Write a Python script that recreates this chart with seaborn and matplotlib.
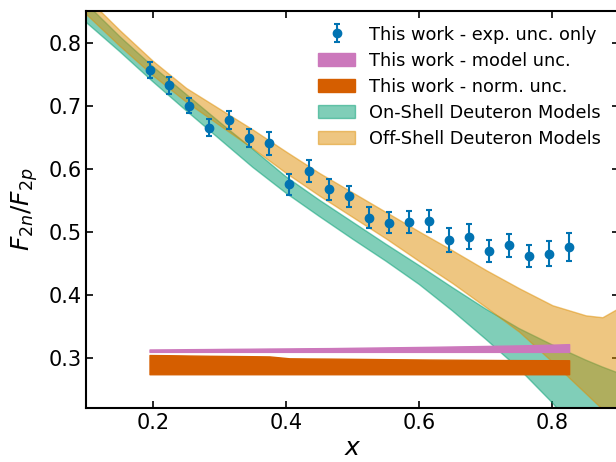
import numpy as np
import seaborn as sns
import matplotlib
matplotlib.use("Agg")
import matplotlib.pyplot as plt

# measured F2n/F2p points (exp. unc. only)
x_data = [0.195, 0.225, 0.255, 0.285, 0.315, 0.345, 0.375, 0.405, 0.435, 0.465, 0.495,
          0.525, 0.555, 0.585, 0.615, 0.645, 0.675, 0.705, 0.735, 0.765, 0.795, 0.825]
ratio = [0.756, 0.732, 0.700, 0.665, 0.677, 0.649, 0.640, 0.575, 0.596, 0.567, 0.556,
         0.522, 0.514, 0.515, 0.517, 0.487, 0.492, 0.469, 0.478, 0.461, 0.465, 0.476]
exp_err = [0.013, 0.013, 0.012, 0.013, 0.014, 0.014, 0.018, 0.017, 0.018, 0.017, 0.017,
           0.017, 0.017, 0.018, 0.018, 0.019, 0.020, 0.018, 0.018, 0.017, 0.020, 0.022]

# model / normalisation uncertainty bands (drawn at the bottom)
model_lo = 0.309
model_hi = [0.3128, 0.3130, 0.3133, 0.3135, 0.3138, 0.3140, 0.3143, 0.3145, 0.3148, 0.3150, 0.3154,
            0.3158, 0.3162, 0.3166, 0.3170, 0.3175, 0.3180, 0.3185, 0.3190, 0.3196, 0.3203, 0.3213]
norm_lo = 0.2735
norm_hi = [0.3040, 0.3037, 0.3032, 0.3028, 0.3025, 0.3022, 0.3018, 0.2988, 0.2985, 0.2983, 0.2980,
           0.2977, 0.2974, 0.2971, 0.2968, 0.2966, 0.2964, 0.2962, 0.2960, 0.2959, 0.2958, 0.2957]

# deuteron model bands
x_model = [0.10, 0.15, 0.20, 0.25, 0.30, 0.35, 0.40, 0.45, 0.50, 0.55, 0.60,
           0.65, 0.70, 0.75, 0.80, 0.85, 0.875, 0.90]
on_lo = [0.832, 0.786, 0.738, 0.692, 0.647, 0.602, 0.561, 0.524, 0.488, 0.453, 0.416,
         0.374, 0.329, 0.282, 0.228, 0.165, 0.132, 0.098]
on_hi = [0.862, 0.810, 0.762, 0.718, 0.674, 0.631, 0.587, 0.550, 0.515, 0.480, 0.446,
         0.411, 0.377, 0.346, 0.320, 0.296, 0.285, 0.275]
off_lo = [0.845, 0.795, 0.748, 0.706, 0.669, 0.632, 0.593, 0.557, 0.523, 0.489, 0.453,
          0.418, 0.380, 0.341, 0.293, 0.243, 0.218, 0.190]
off_hi = [0.872, 0.820, 0.771, 0.728, 0.695, 0.662, 0.627, 0.593, 0.562, 0.531, 0.500,
          0.470, 0.439, 0.410, 0.383, 0.367, 0.364, 0.379]

sns.set_theme(style="ticks")
plt.rcParams.update({"text.color": "black", "axes.labelcolor": "black"})
pal = sns.color_palette("colorblind")

fig = plt.figure(figsize=(6.16, 4.62), dpi=100)
ax = fig.add_axes([0.14, 0.117, 0.865, 0.859])

ax.errorbar(x_data, ratio, yerr=exp_err, fmt="o", color=pal[0], ms=6, elinewidth=1.5,
            capsize=2, capthick=1.5, label="This work - exp. unc. only", zorder=5)
ax.fill_between(x_data, model_lo, model_hi, color=pal[4], label="This work - model unc.", zorder=4)
ax.fill_between(x_data, norm_lo, norm_hi, color=pal[3], label="This work - norm. unc.", zorder=4)
ax.fill_between(x_model, on_lo, on_hi, color=pal[2], alpha=0.5, label="On-Shell Deuteron Models")
ax.fill_between(x_model, off_lo, off_hi, color=pal[1], alpha=0.5, label="Off-Shell Deuteron Models")

ax.set_xlim(0.1, 0.9)
ax.set_ylim(0.22, 0.85)
ax.set_xticks([0.2, 0.4, 0.6, 0.8])
ax.set_yticks([0.3, 0.4, 0.5, 0.6, 0.7, 0.8])
ax.tick_params(direction="in", top=True, right=True, length=5, width=1.2, labelsize=15,
               colors="black")
for s in ax.spines.values():
    s.set_linewidth(1.5)
    s.set_color("black")
ax.set_xlabel("$x$", fontsize=18, labelpad=2)
ax.set_ylabel("$F_{2n}/F_{2p}$", fontsize=18, labelpad=6)

# errorbar entry first, like the original
handles, labels = ax.get_legend_handles_labels()
order = [labels.index("This work - exp. unc. only")] + \
        [i for i, l in enumerate(labels) if l != "This work - exp. unc. only"]
ax.legend([handles[i] for i in order], [labels[i] for i in order],
          loc="upper right", bbox_to_anchor=(0.99, 0.995), frameon=False, fontsize=12.8,
          handlelength=2.1, labelspacing=0.45, borderaxespad=0.3)

fig.savefig("out.png", dpi=100)
